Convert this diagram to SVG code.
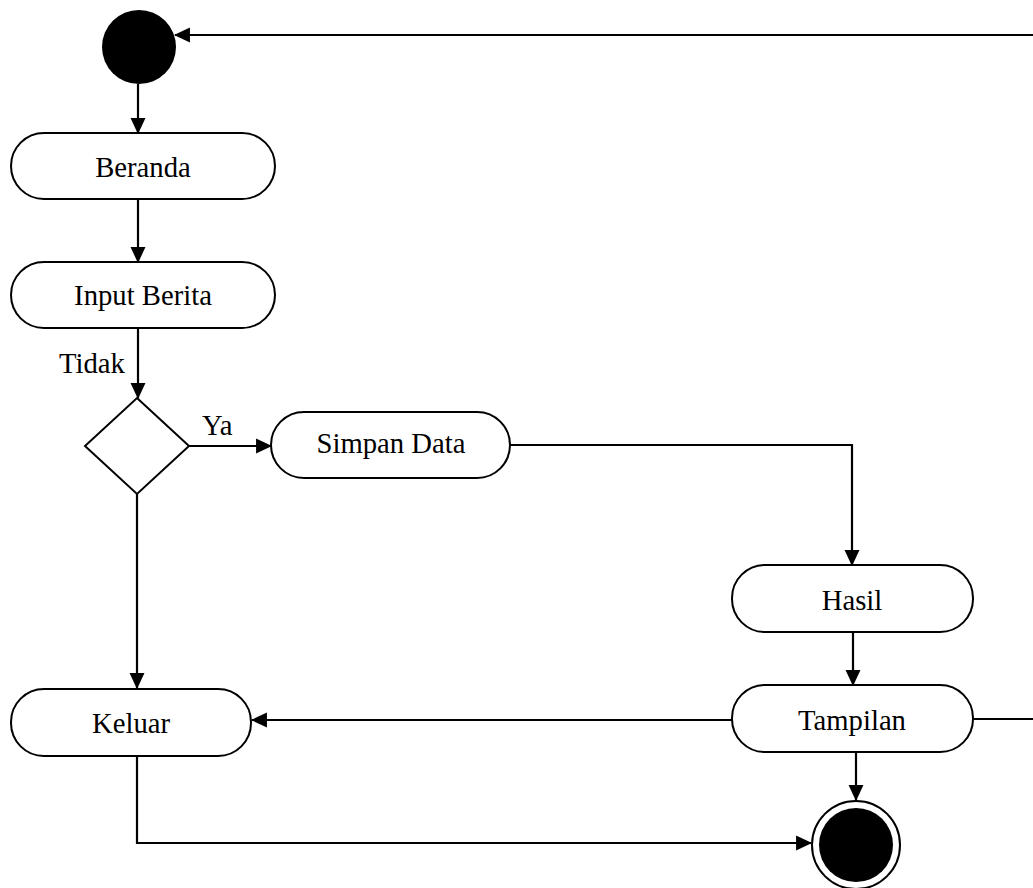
<svg xmlns="http://www.w3.org/2000/svg" width="1033" height="888" viewBox="0 0 1033 888">
<style>
.node{fill:#fff;stroke:#000;stroke-width:2}
.lbl{font-family:"Liberation Serif","Times New Roman",serif;font-size:28.7px;fill:#000}
.c{text-anchor:middle}
.edge{fill:none;stroke:#000;stroke-width:2.2}
</style>
<defs>
<marker id="ah" markerUnits="userSpaceOnUse" markerWidth="16" markerHeight="16" viewBox="0 0 15 14" refX="14" refY="7" orient="auto">
<path d="M0,0 L15,7 L0,14 z" fill="#000"/>
</marker>
</defs>
<g id="connectors">
<path class="edge" d="M1034,35 L175,35" marker-end="url(#ah)"/>
<path class="edge" d="M138,84 L138,133" marker-end="url(#ah)"/>
<path class="edge" d="M138,199 L138,262" marker-end="url(#ah)"/>
<path class="edge" d="M138,328 L138,398" marker-end="url(#ah)"/>
<path class="edge" d="M189,446 L271,446" marker-end="url(#ah)"/>
<path class="edge" d="M510,445 L852,445 L852,565" marker-end="url(#ah)"/>
<path class="edge" d="M853,632 L853,685" marker-end="url(#ah)"/>
<path class="edge" d="M973,719 L1034,719"/>
<path class="edge" d="M732,720 L252,720" marker-end="url(#ah)"/>
<path class="edge" d="M137,494 L137,688" marker-end="url(#ah)"/>
<path class="edge" d="M856,752 L856,800" marker-end="url(#ah)"/>
<path class="edge" d="M137,756 L137,843 L811,843" marker-end="url(#ah)"/>
</g>
<g id="start"><circle cx="139" cy="47" r="37" fill="#000"/></g>
<g id="beranda"><rect class="node" x="11" y="133" width="264" height="66" rx="33"/><text class="lbl c" x="143" y="177">Beranda</text></g>
<g id="input-berita"><rect class="node" x="11" y="262" width="264" height="66" rx="33"/><text class="lbl c" x="143" y="305">Input Berita</text></g>
<g id="decision"><polygon class="node" points="137,398 189,446 137,494 85,446"/></g>
<g id="label-tidak"><text class="lbl" x="59" y="373">Tidak</text></g>
<g id="label-ya"><text class="lbl" x="202" y="435">Ya</text></g>
<g id="simpan-data"><rect class="node" x="271" y="412" width="239" height="66" rx="33"/><text class="lbl c" x="391" y="453">Simpan Data</text></g>
<g id="hasil"><rect class="node" x="732" y="565" width="241" height="67" rx="33"/><text class="lbl c" x="852" y="610">Hasil</text></g>
<g id="tampilan"><rect class="node" x="732" y="685" width="241" height="67" rx="33"/><text class="lbl c" x="852" y="730">Tampilan</text></g>
<g id="keluar"><rect class="node" x="11" y="689" width="240" height="67" rx="33"/><text class="lbl c" x="131" y="733">Keluar</text></g>
<g id="end"><circle cx="856" cy="845" r="44" fill="#fff" stroke="#000" stroke-width="2"/><circle cx="856" cy="845" r="37" fill="#000"/></g>
</svg>
